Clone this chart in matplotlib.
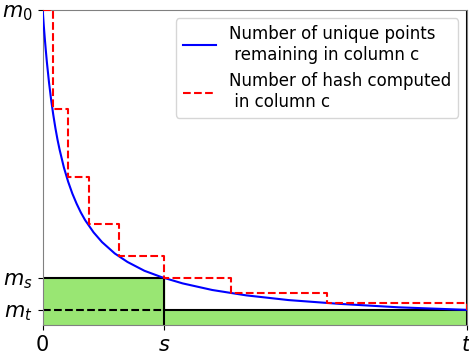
import matplotlib
matplotlib.use('Agg')
import matplotlib.pyplot as plt

# axis scale: x from 0 to t, y from 0 to m0
t = 100
s = 28.7
m0 = 1.0
ms = 0.150
mt = 0.048

# Number of unique points remaining
blue_x = [0, 0.25, 0.5, 0.75, 1, 1.5, 2, 2.5, 3, 3.5, 4, 5, 6, 7, 8, 9, 10,
          12, 14, 17, 20, 24, 28, 33, 40, 48, 58, 70, 84, 100]
blue_y = [1.0, 0.952, 0.909, 0.870, 0.833, 0.769, 0.714, 0.667, 0.625, 0.588,
          0.556, 0.5, 0.455, 0.417, 0.385, 0.357, 0.333, 0.294, 0.263, 0.227,
          0.2, 0.172, 0.152, 0.132, 0.111, 0.094, 0.079, 0.067, 0.056, 0.048]

# Number of hash computed (steps)
red_x = [0, 2.36, 5.9, 10.85, 18.0, 28.7, 44.4, 67.0, 100, 100]
red_y = [1.0, 0.685, 0.469, 0.320, 0.219, 0.148, 0.1025, 0.0708, 0.0708, 0.048]

fig = plt.figure(figsize=(4.69, 3.54), dpi=100)
ax = fig.add_axes([0.091, 0.082, 0.904, 0.890])

# green areas
ax.fill_between([0, s], 0, ms, color='#99e673', zorder=1)
ax.fill_between([s, t], 0, mt, color='#99e673', zorder=1)

ax.plot(blue_x, blue_y, color='blue', lw=1.5, zorder=3,
        label='Number of unique points\n remaining in column c')
ax.plot(red_x, red_y, color='red', ls='--', lw=1.5, drawstyle='steps-post',
        zorder=3, label='Number of hash computed\n in column c')

# black guide lines
ax.plot([0, s], [ms, ms], color='black', lw=1.5, zorder=2)
ax.plot([s, s], [0, ms], color='black', lw=1.5, zorder=2)
ax.plot([0, s], [mt, mt], color='black', lw=1.5, ls='--', zorder=2)
ax.plot([s, t], [mt, mt], color='black', lw=1.5, zorder=2)
ax.axvline(t, color='black', lw=1.5, zorder=2)

ax.set_xlim(0, t)
ax.set_ylim(0, m0)
ax.set_xticks([0, s, t])
ax.set_xticklabels(['0', '$s$', '$t$'], fontsize=15)
ax.set_yticks([mt, ms, m0])
ax.set_yticklabels(['$m_t$', '$m_s$', '$m_0$'], fontsize=15)

for sp in ax.spines.values():
    sp.set_color('gray')

ax.legend(loc='upper right', fontsize=12)

fig.savefig('out.png', dpi=100)
